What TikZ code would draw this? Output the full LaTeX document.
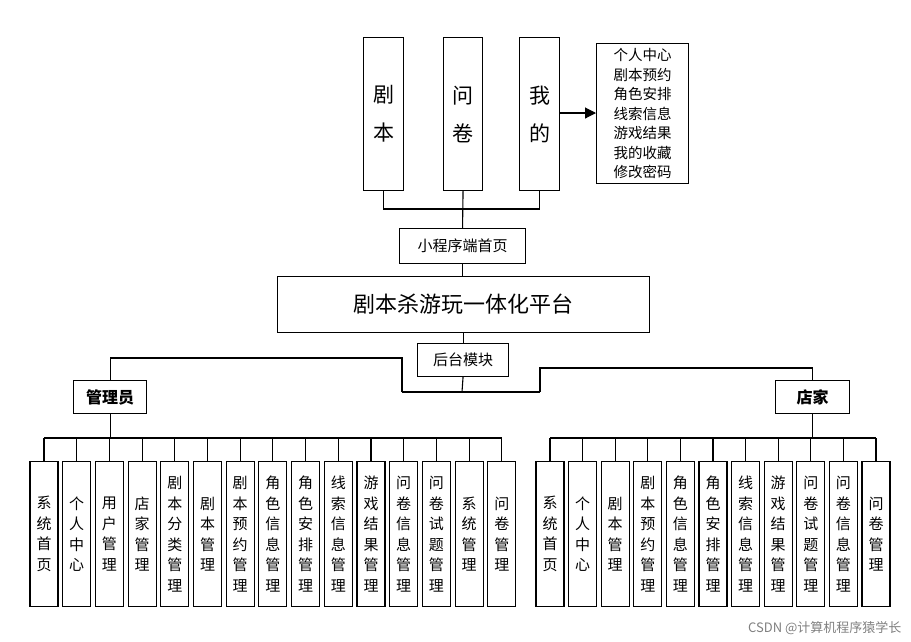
\documentclass[tikz,border=0pt]{standalone}
\usepackage{fontspec}
\setmainfont{Noto Sans CJK SC}
\usetikzlibrary{arrows.meta}
\begin{document}
\begin{tikzpicture}[x=1pt,y=-1pt,
  box/.style={draw,line width=1.1pt,inner sep=0pt,anchor=north west},
  leaf/.style={draw,line width=1.1pt,minimum width=28pt,minimum height=145pt,inner sep=0pt,anchor=north,align=center,font=\fontsize{15}{20.5}\selectfont},
  ln/.style={line width=1.1pt}]
\useasboundingbox (0,0) rectangle (911,641);
\node[box,minimum width=40pt,minimum height=153pt,font=\fontsize{21}{38}\selectfont,align=center] (jb) at (363,37) {剧\\本};
\node[box,minimum width=39pt,minimum height=153pt,font=\fontsize{21}{38}\selectfont,align=center] (wj) at (443,37) {问\\卷};
\node[box,minimum width=40pt,minimum height=153pt,font=\fontsize{21}{38}\selectfont,align=center] (wd) at (519,37) {我\\的};
\node[box,minimum width=92pt,minimum height=140pt,align=center,font=\fontsize{14.5}{19.5}\selectfont] (lst) at (596,43) {个人中心\\剧本预约\\角色安排\\线索信息\\游戏结果\\我的收藏\\修改密码};
\draw[ln,-{Triangle[length=11pt,width=11pt]}] (wd.east|-0,113) -- (lst.west|-0,113);
\node[box,minimum width=126pt,minimum height=35pt,font=\fontsize{15}{18}\selectfont] (mini) at (399,228) {小程序端首页};
\node[box,minimum width=372pt,minimum height=56pt,font=\fontsize{22}{26}\selectfont] (plat) at (277,276) {剧本杀游玩一体化平台};
\node[box,minimum width=91pt,minimum height=33pt,font=\fontsize{15}{18}\selectfont] (ht) at (417,343) {后台模块};
\node[box,minimum width=73pt,minimum height=33pt,font=\bfseries\fontsize{16}{18}\selectfont] (adm) at (73,380) {管理员};
\node[box,minimum width=74pt,minimum height=33pt,font=\bfseries\fontsize{16}{18}\selectfont] (shop) at (775,380) {店家};
\draw[ln] (jb.south) -- (jb.south|-0,209) -- (wd.south|-0,209) -- (wd.south);
\draw[ln] (wj.south) -- (mini.north);
\draw[ln] (mini.south) -- (plat.north-|mini.south);
\draw[ln] (plat.south-|ht.north) -- (ht.north);
\draw[ln] (ht.south) -- (462,392);
\draw[ln] (402,392) -- (540,392);
\draw[ln] (402,392) -- (402,358) -| (adm.north);
\draw[ln] (540,392) -- (540,368) -| (shop.north);
\foreach \t [count=\i from 0] in {系\\统\\首\\页,个\\人\\中\\心,用\\户\\管\\理,店\\家\\管\\理,剧\\本\\分\\类\\管\\理,剧\\本\\管\\理,剧\\本\\预\\约\\管\\理,角\\色\\信\\息\\管\\理,角\\色\\安\\排\\管\\理,线\\索\\信\\息\\管\\理,游\\戏\\结\\果\\管\\理,问\\卷\\信\\息\\管\\理,问\\卷\\试\\题\\管\\理,系\\统\\管\\理,问\\卷\\管\\理}{
  \node[leaf] (a\i) at (44+\i*32.7,461) {\t};
  \draw[ln] (a\i.north) -- (44+\i*32.7,438);
}
\draw[ln] (a0.north|-0,438) -- (a14.north|-0,438);
\draw[ln] (adm.south) -- (adm.south|-0,438);
\foreach \t [count=\i from 0] in {系\\统\\首\\页,个\\人\\中\\心,剧\\本\\管\\理,剧\\本\\预\\约\\管\\理,角\\色\\信\\息\\管\\理,角\\色\\安\\排\\管\\理,线\\索\\信\\息\\管\\理,游\\戏\\结\\果\\管\\理,问\\卷\\试\\题\\管\\理,问\\卷\\信\\息\\管\\理,问\\卷\\管\\理}{
  \node[leaf] (s\i) at (550+\i*32.6,461) {\t};
  \draw[ln] (s\i.north) -- (550+\i*32.6,438);
}
\draw[ln] (s0.north|-0,438) -- (s10.north|-0,438);
\draw[ln] (shop.south) -- (shop.south|-0,438);
\node[anchor=south east,text=gray,font=\fontsize{13}{15}\selectfont] (wm) at (905,638) {CSDN @计算机程序猿学长};
\end{tikzpicture}
\end{document}
